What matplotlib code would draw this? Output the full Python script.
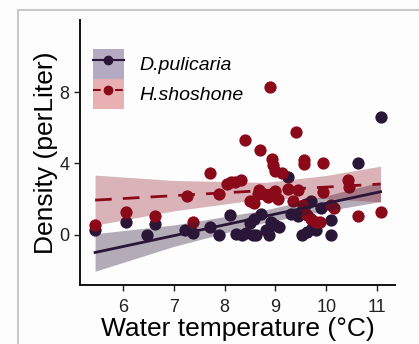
import numpy as np
import matplotlib.pyplot as plt
from matplotlib.patches import Patch, Rectangle
from matplotlib.lines import Line2D

plt.rcParams['font.family'] = ['Liberation Sans', 'DejaVu Sans']

# field counts, density per liter vs water temperature
dpul_temp = [5.45, 6.06, 6.63, 6.47, 7.22, 7.38, 7.72, 7.88, 8.1, 8.22, 8.35, 8.42,
             8.55, 8.62, 8.5, 8.58, 8.72, 8.82, 8.88, 8.92, 9.0, 9.08, 9.25, 9.3,
             9.53, 9.62, 9.72, 9.6, 9.7, 9.8, 9.9, 10.1, 10.1, 10.63, 11.07, 9.45, 9.55]
dpul_dens = [0.25, 0.7, 0.6, 0.0, 0.25, 0.1, 0.45, 0.0, 1.1, 0.05, 0.0, 0.1,
             0.0, 0.0, 0.65, 0.9, 1.2, 0.3, 0.0, 0.75, 0.55, 0.45, 3.25, 1.2,
             0.0, 0.15, 0.4, 1.75, 1.9, 0.3, 1.5, 0.85, 0.0, 4.0, 6.6, 1.05, 1.5]

hsho_temp = [5.45, 6.06, 6.63, 7.26, 7.38, 7.72, 7.88, 8.05, 8.12, 8.2, 8.32, 8.4,
             8.7, 8.9, 8.94, 8.96, 9.0, 9.12, 9.4, 9.56, 9.56, 9.93, 8.5, 8.58,
             8.68, 8.78, 8.85, 9.05, 9.25, 9.45, 9.35, 9.55, 9.62, 9.7, 9.8, 9.88,
             9.93, 10.1, 10.15, 10.42, 10.45, 10.63, 11.07, 8.65, 9.0]
hsho_dens = [0.55, 1.3, 1.05, 2.2, 0.7, 3.45, 2.3, 2.85, 2.95, 2.95, 3.1, 5.3,
             4.75, 8.3, 4.25, 3.9, 3.6, 3.45, 5.75, 4.2, 3.95, 4.0, 1.9, 1.8,
             2.5, 2.3, 2.1, 2.0, 2.6, 2.5, 1.9, 1.7, 1.1, 0.9, 0.7, 0.75,
             2.4, 1.7, 1.5, 3.05, 2.7, 1.05, 1.3, 2.3, 2.45]

# linear fits with 95% CI
fit_x = [5.45, 7.0, 8.8, 10.0, 11.07]
dpul_fit = [-0.98, -0.04, 1.05, 1.77, 2.42]
dpul_lo = [-2.03, -0.64, 0.70, 1.35, 1.87]
dpul_hi = [0.07, 0.56, 1.40, 2.19, 2.97]
hsho_fit = [1.95, 2.20, 2.49, 2.68, 2.85]
hsho_lo = [0.55, 1.35, 2.04, 2.03, 1.85]
hsho_hi = [3.35, 3.05, 2.94, 3.33, 3.85]

species = ['D.pulicaria', 'H.shoshone']
col_d = '#2a1636'
col_h = '#8a0a1a'
band_d = '#b4aac2'
band_h = '#e8b0b2'

fig = plt.figure(figsize=(4.19, 3.44), dpi=100)
fig.patch.set_facecolor('#fdfdfd')
fig.patches.append(Rectangle((18 / 419, -0.1), 1.2, (334 / 344) + 0.1,
                             transform=fig.transFigure, fill=False,
                             edgecolor='#c9c9c9', lw=1.5))
ax = fig.add_axes([80 / 419, 59 / 344, 315 / 419, 265 / 344])
ax.set_facecolor('none')

ax.scatter(dpul_temp, dpul_dens, s=78, color=col_d, zorder=2, linewidths=0)
ax.scatter(hsho_temp, hsho_dens, s=78, color=col_h, zorder=2, linewidths=0)

ax.fill_between(fit_x, dpul_lo, dpul_hi, color=col_d, alpha=0.35, lw=0, zorder=3)
ax.fill_between(fit_x, hsho_lo, hsho_hi, color=col_h, alpha=0.3, lw=0, zorder=3)
ax.plot(fit_x, dpul_fit, color=col_d, lw=2, zorder=4)
ax.plot(fit_x, hsho_fit, color=col_h, lw=2, ls=(0, (6, 4)), zorder=4)

ax.set_xlim(5.153, 11.354)
ax.set_ylim(-2.8, 12.03)
ax.set_xticks([6, 7, 8, 9, 10, 11])
ax.set_yticks([0, 4, 8])
ax.tick_params(labelsize=13, length=4, width=1, colors='#222222')
ax.tick_params(axis='x', pad=6)
for s in ['top', 'right']:
    ax.spines[s].set_visible(False)
for s in ['left', 'bottom']:
    ax.spines[s].set_linewidth(1.4)
    ax.spines[s].set_color('#111111')

ax.set_xlabel('Water temperature (°C)', fontsize=19, labelpad=1)
ax.set_ylabel('Density (perLiter)', fontsize=19, labelpad=1)

handles = [
    (Patch(facecolor=band_d, edgecolor='none'),
     Line2D([], [], color=col_d, marker='o', markersize=6, lw=1.5)),
    (Patch(facecolor=band_h, edgecolor='none'),
     Line2D([], [], color=col_h, marker='o', markersize=6, lw=1.5, ls='--')),
]
leg = ax.legend(handles, species, loc='upper left', bbox_to_anchor=(0.041, 0.89),
                frameon=False, borderpad=0, borderaxespad=0, handlelength=1.6,
                handleheight=2.0, labelspacing=0, handletextpad=0.8,
                prop={'style': 'italic', 'size': 14})

fig.savefig('out.png', dpi=100)
